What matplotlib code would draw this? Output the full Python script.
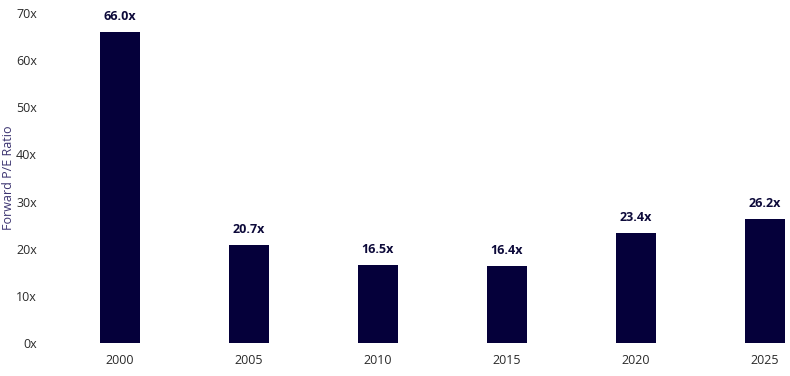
import matplotlib
matplotlib.use("Agg")
import matplotlib.pyplot as plt

years = ["2000", "2005", "2010", "2015", "2020", "2025"]
pe_ratio = [66.0, 20.7, 16.5, 16.4, 23.4, 26.2]
y_ticks = [0, 10, 20, 30, 40, 50, 60, 70]

plt.rcParams["font.family"] = ["Open Sans", "DejaVu Sans"]

fig = plt.figure(figsize=(7.9, 3.76), dpi=100)
W, H = 790, 376
left_px, right_px = 55, 790
ax = fig.add_axes([left_px / W, 1 - 343 / H, (right_px - left_px) / W, 330 / H])

step = 129.0
x = list(range(len(years)))
ax.bar(x, pe_ratio, width=40 / step, color="#05003a")
ax.set_xlim(-(120 - left_px) / step, 5 + (right_px - 765) / step)
ax.set_ylim(0, 70)

for xi, v in zip(x, pe_ratio):
    ax.annotate(f"{v:.1f}x", (xi, v), xytext=(0, 6.5), textcoords="offset points",
                ha="center", va="bottom", fontsize=9, fontweight="bold", color="#0d0a3a")

ax.set_yticks(y_ticks)
ax.set_yticklabels([f"{t}x" for t in y_ticks])
ax.set_xticks(x)
ax.set_xticklabels(years)
ax.tick_params(axis="both", length=0, labelsize=9, labelcolor="#2a2a2a")
ax.tick_params(axis="y", pad=13)
ax.tick_params(axis="x", pad=8)
for s in ax.spines.values():
    s.set_visible(False)

ax.set_ylabel("Forward P/E Ratio", fontsize=9, color="#3b3370")
ax.yaxis.set_label_coords(-(left_px - 15) / (right_px - left_px), 0.5)

fig.savefig("out.png", dpi=100)
